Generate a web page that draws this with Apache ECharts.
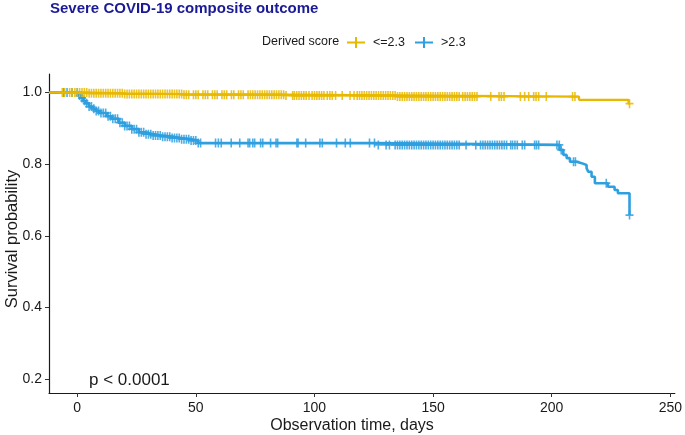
<!DOCTYPE html>
<html><head><meta charset="utf-8">
<script src="https://cdn.jsdelivr.net/npm/echarts@6/dist/echarts.min.js"></script>
<style>html,body{margin:0;padding:0;background:#fff}#c{width:685px;height:435px}</style>
</head><body><div id="c"></div>
<script>
// ---- data ----
const groupNames = ['<=2.3', '>2.3'];
const xTicks = [0, 50, 100, 150, 200, 250];
const yTicks = [0.2, 0.4, 0.6, 0.8, 1.0];
// Kaplan-Meier steps: [time, survival after step]
const lowSteps = [[-11.9,1.0],[5,0.998],[20,0.996],[45,0.994],[88,0.992],[135,0.989],[211.5,0.980],[232.4,0.969],[232.8,0.969]];
const highSteps = [[-11.9,1.0],[0.5,0.992],[1.5,0.985],[2.5,0.977],[3.5,0.970],[5,0.961],[6.5,0.955],[8,0.949],[9.5,0.943],[12.5,0.934],[14.5,0.927],[17.5,0.916],[20,0.907],[23,0.898],[26,0.889],[29,0.884],[32,0.880],[35.5,0.877],[40,0.873],[44,0.870],[48,0.866],[51,0.859],[126,0.854],[203.3,0.840],[204.9,0.826],[206.3,0.817],[207.7,0.807],[210.5,0.803],[212.6,0.798],[214.7,0.789],[215.4,0.779],[216.8,0.765],[218.2,0.747],[223.7,0.737],[226.5,0.728],[227.9,0.719],[232.8,0.658]];
// censoring times
const lowCensor = [-6.3,-5.3,-3.2,-2.2,-1,0,1,2,3,4,5,6,7,8,9,10,11,12,13,14,15,16,17,18,19,20,21,22,23,24,25,26,27,28,29,30,31,32,33,34,35,36,37,38,39,40,41,42,43,44,45,46,47,49,50,51,53,54,55,57,58,59,61,62,63,65,66,68,69,70,72,73,74,75,76,77,78,79,80,81,82,83,84,85,86,87,88,90.8,91.5,92.5,93.5,94.5,95.5,96.5,97.7,99,100,101,102,103,104,105.4,106.5,107.5,108.9,111.7,115,116.7,118,119,120,121,122,123,124,125,126,127,128,129,130,131,132,133,134,135,136,137,138,139,140,141,142,143,144,145,146,147,148,149,150,151,152,153,154,155,156,157,158,159,160,161,162.5,163.5,164.5,165.5,166.5,167.5,168.5,174.3,177.8,178.8,179.9,186.8,188.6,190.3,192.4,193.4,194.5,197.7,208.8,209.8,232.8];
const highCensor = [-5.7,-4.3,-2.2,0,1,2,3,4,5,6,7,8,9,10,11,12,13,14,15,16,17,18,19,20,21,22,23,24,25,26,27,28,29,30,31,32,33,34,35,36,37,38,39,40,41,42,43,44,45,46,47,48,49,50,51,52,58.3,59.5,60.7,64.9,68.5,72,72.7,74,74.8,77.3,78.2,81.5,83.8,84.5,92.6,93.1,96.3,102.3,103.3,109.3,113,115.1,123.2,125.3,126.9,130.2,131.6,134,135,136,137,138,139,140,141,142,143,144,145,146,147,148,149,150,151,152,153,154,155,156,157,158,159,160,161,163.9,168,170,171,172,173,174,175,176,177,178,179,180,181,182.7,183.5,184.5,185.5,187.6,188.6,192.8,193.6,194.5,202.2,203.2,204,209.2,210,223,232.8];
const colors = ['#E7B800', '#2E9FDF'];

function survAt(steps, t) {
  let v = steps[0][1];
  for (const s of steps) { if (s[0] <= t) v = s[1]; else break; }
  return v;
}
const plusSym = 'path://M0,4h10v2h-10z M4,0h2v10h-2z';
const legendIcon = 'path://M0,4.5h18v2h-18z M8,0h2v11h-2z';

const chart = echarts.init(document.getElementById('c'), null, {renderer: 'canvas'});
const font = 'Liberation Sans, Arial, sans-serif';
chart.setOption({
  animation: false,
  textStyle: {fontFamily: font},
  grid: {left: 49, right: 4, top: 74, bottom: 42, containLabel: false},
  legend: {
    left: 347, top: 36, padding: 0, itemWidth: 18, itemHeight: 11, itemGap: 10,
    textStyle: {fontSize: 12.5, color: '#1a1a1a', fontFamily: font, padding: [0, 0, 0, 3]},
    data: [{name: groupNames[0], icon: legendIcon}, {name: groupNames[1], icon: legendIcon}]
  },
  xAxis: {
    type: 'value', min: -11.9, max: 251.9,
    axisLine: {show: true, onZero: false, lineStyle: {color: '#1a1a1a', width: 1.2}},
    axisTick: {show: true, length: 4, customValues: xTicks, lineStyle: {color: '#333'}},
    axisLabel: {customValues: xTicks, fontSize: 14, color: '#1a1a1a', margin: 8, fontFamily: font},
    splitLine: {show: false}
  },
  yAxis: {
    type: 'value', min: 0.161, max: 1.052,
    axisLine: {show: true, onZero: false, lineStyle: {color: '#1a1a1a', width: 1.2}},
    axisTick: {show: true, length: 4, customValues: yTicks, lineStyle: {color: '#333'}},
    axisLabel: {customValues: yTicks, fontSize: 14, color: '#1a1a1a', margin: 7, fontFamily: font,
      formatter: v => v.toFixed(1)},
    splitLine: {show: false}
  },
  series: [
    {name: groupNames[0], type: 'line', step: 'end', data: lowSteps, showSymbol: false,
     lineStyle: {color: colors[0], width: 2.3}, itemStyle: {color: colors[0]}, z: 3},
    {name: groupNames[1], type: 'line', step: 'end', data: highSteps, showSymbol: false,
     lineStyle: {color: colors[1], width: 2.6}, itemStyle: {color: colors[1]}, z: 2},
    {name: groupNames[0], type: 'scatter', symbol: plusSym, symbolSize: [8, 9],
     data: lowCensor.map(t => [t, survAt(lowSteps, t)]), itemStyle: {color: colors[0], opacity: 0.85}, z: 4},
    {name: groupNames[1], type: 'scatter', symbol: plusSym, symbolSize: [8, 9],
     data: highCensor.map(t => [t, survAt(highSteps, t)]), itemStyle: {color: colors[1], opacity: 0.85}, z: 2}
  ],
  graphic: [
    {type: 'text', left: 50, top: 1, style: {text: 'Severe COVID-19 composite outcome', fill: '#1a1a96',
      font: 'bold 15px ' + font}},
    {type: 'text', x: 262, y: 42, style: {text: 'Derived score', fill: '#1a1a1a', font: '12.5px ' + font,
      textVerticalAlign: 'middle'}},
    {type: 'text', x: 12, y: 239, rotation: Math.PI / 2, style: {text: 'Survival probability', fill: '#1a1a1a',
      font: '16.5px ' + font, textAlign: 'center', textVerticalAlign: 'middle'}},
    {type: 'text', x: 352, y: 426, style: {text: 'Observation time, days', fill: '#1a1a1a',
      font: '16px ' + font, textAlign: 'center', textVerticalAlign: 'middle'}},
    {type: 'text', x: 89, y: 380, style: {text: 'p < 0.0001', fill: '#1a1a1a',
      font: '17px ' + font, textVerticalAlign: 'middle'}}
  ]
});
</script></body></html>
